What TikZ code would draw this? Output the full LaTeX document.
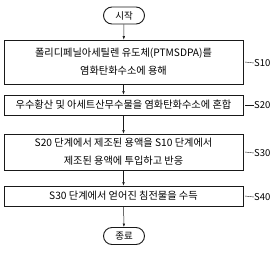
\documentclass[tikz,border=0pt]{standalone}
\usepackage{fontspec}
\setmainfont{Noto Sans CJK KR}
\usetikzlibrary{shapes.misc,shadows,arrows.meta}

\definecolor{lineblk}{RGB}{25,25,25}

\tikzset{
  stepbox/.style={draw=lineblk, line width=0.6pt, fill=white, align=center,
    minimum width=239pt, inner sep=0pt, font=\fontsize{10.2}{18}\selectfont,
    drop shadow={shadow xshift=1.2pt, shadow yshift=-1.2pt, fill=lineblk, opacity=1}},
  termbox/.style={draw=lineblk, line width=0.9pt, rounded rectangle, fill=white,
    minimum width=41pt, minimum height=17pt, inner sep=0pt},
  steplbl/.style={anchor=west, inner sep=0pt},
  flow/.style={lineblk, line width=0.5pt, -{Latex[length=3.5pt,width=2.5pt]}}
}

\begin{document}
\begin{tikzpicture}[x=1pt, y=-1pt, font=\fontsize{9.5}{17}\selectfont]

  \useasboundingbox (0,0) rectangle (278,252);

  % start / end
  \node[termbox] (start) at (124,15.5) {시작};
  \node[termbox] (stop) at (124,236) {종료};

  % process steps
  \node[stepbox, minimum height=44pt] (s10) at (123.5,62)
    {폴리디페닐아세틸렌 유도체(PTMSDPA)를\\염화탄화수소에 용해};
  \node[stepbox, minimum height=20pt] (s20) at (123.5,105)
    {우수황산 및 아세트산무수물을 염화탄화수소에 혼합};
  \node[stepbox, minimum height=36pt] (s30) at (123.5,152)
    {S20 단계에서 제조된 용액을 S10 단계에서\\제조된 용액에 투입하고 반응};
  \node[stepbox, minimum height=20pt] (s40) at (123.5,196)
    {S30 단계에서 얻어진 침전물을 수득};

  % arrows
  \draw[flow] (start) -- (s10);
  \draw[flow] (s10) -- (s20);
  \draw[flow] (s20) -- (s30);
  \draw[flow] (s30) -- (s40);
  \draw[flow] (s40) -- (stop);

  % step labels
  \node[steplbl] (l10) at (254,63) {S10};
  \node[steplbl] (l20) at (254,105) {S20};
  \node[steplbl] (l30) at (254,153) {S30};
  \node[steplbl] (l40) at (254,197) {S40};
  \draw[lineblk, thin] (s10.east) ++(1.5,0) -- (l10.west);
  \draw[lineblk, thin] (s20.east) ++(1.5,0) -- (l20.west);
  \draw[lineblk, thin] (s30.east) ++(1.5,0) -- (l30.west);
  \draw[lineblk, thin] (s40.east) ++(1.5,0) -- (l40.west);

\end{tikzpicture}
\end{document}
